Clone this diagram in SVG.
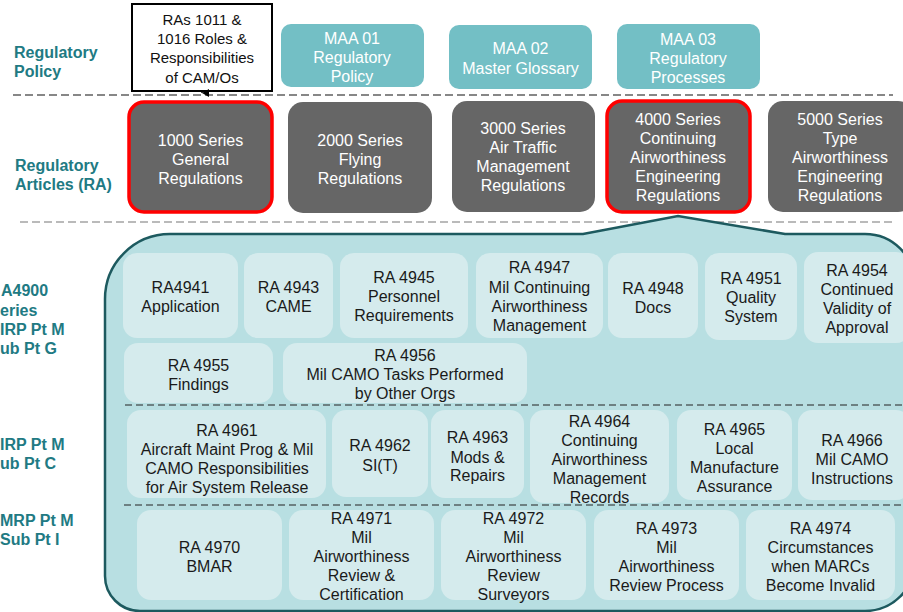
<svg xmlns="http://www.w3.org/2000/svg" width="903" height="612" viewBox="0 0 903 612">
<defs>
<style>
.lbl{font-family:"Liberation Sans",Arial,sans-serif;font-weight:bold;font-size:16px;fill:#217a83}
.w{font-family:"Liberation Sans",Arial,sans-serif;font-size:16px;fill:#ffffff;text-anchor:middle}
.k{font-family:"Liberation Sans",Arial,sans-serif;font-size:16px;fill:#1a1a1a;text-anchor:middle}
.k15{font-family:"Liberation Sans",Arial,sans-serif;font-size:15px;fill:#111;text-anchor:middle}
.maa{fill:#73bfc5}
.dark{fill:#666666}
.red{fill:#666666;stroke:#ff0000;stroke-width:3.5}
.inner{fill:#d5ebed}
.dash{fill:none;stroke:#222;stroke-width:1;stroke-dasharray:7 4}
</style>
<marker id="ah" markerWidth="8" markerHeight="8" refX="4" refY="7" orient="auto" markerUnits="userSpaceOnUse" viewBox="0 0 8 8">
<path d="M0,0 L8,0 L4,7 Z" fill="#000"/>
</marker>
</defs>
<rect width="903" height="612" fill="#ffffff"/>

<g id="row-labels">
<text class="lbl" x="14" y="58">Regulatory</text>
<text class="lbl" x="14" y="77">Policy</text>
<text class="lbl" x="15" y="171">Regulatory</text>
<text class="lbl" x="15" y="190">Articles (RA)</text>
<text class="lbl" x="1" y="296">A4900</text>
<text class="lbl" x="0" y="316">eries</text>
<text class="lbl" x="0" y="335">IRP Pt M</text>
<text class="lbl" x="0" y="354">ub Pt G</text>
<text class="lbl" x="0" y="450">IRP Pt M</text>
<text class="lbl" x="0" y="469">ub Pt C</text>
<text class="lbl" x="0" y="526">MRP Pt M</text>
<text class="lbl" x="0" y="545">Sub Pt I</text>
</g>

<g id="separators">
<line x1="13" y1="95" x2="893" y2="95" stroke="#111" stroke-width="1.2" stroke-dasharray="8 4"/>
<line x1="20" y1="222" x2="893" y2="222" stroke="#777" stroke-width="1.2" stroke-dasharray="8 4"/>
</g>

<g id="ra-1011-1016">
<rect x="132" y="4" width="140" height="87" fill="#fff" stroke="#000" stroke-width="2"/>
<text class="k15" x="202" y="24.5">RAs 1011 &amp;</text>
<text class="k15" x="202" y="43.5">1016 Roles &amp;</text>
<text class="k15" x="202" y="62.5">Responsibilities</text>
<text class="k15" x="202" y="82.5">of CAM/Os</text>
</g>

<g id="maa-01">
<rect class="maa" x="281" y="24" width="143" height="63" rx="10"/>
<text class="w" x="352" y="44">MAA 01</text>
<text class="w" x="352" y="63">Regulatory</text>
<text class="w" x="352" y="82">Policy</text>
</g>
<g id="maa-02">
<rect class="maa" x="449" y="25" width="143" height="64" rx="10"/>
<text class="w" x="520.5" y="54">MAA 02</text>
<text class="w" x="520.5" y="74">Master Glossary</text>
</g>
<g id="maa-03">
<rect class="maa" x="617" y="24" width="143" height="65" rx="10"/>
<text class="w" x="688" y="45">MAA 03</text>
<text class="w" x="688" y="64">Regulatory</text>
<text class="w" x="688" y="83">Processes</text>
</g>

<g id="ra-1000">
<rect class="red" x="129" y="102" width="143" height="110" rx="15"/>
<text class="w" x="200.5" y="145.5">1000 Series</text>
<text class="w" x="200.5" y="164.5">General</text>
<text class="w" x="200.5" y="183.5">Regulations</text>
</g>
<g id="ra-2000">
<rect class="dark" x="288" y="102" width="144" height="111" rx="15"/>
<text class="w" x="360" y="145.5">2000 Series</text>
<text class="w" x="360" y="164.5">Flying</text>
<text class="w" x="360" y="183.5">Regulations</text>
</g>
<g id="ra-3000">
<rect class="dark" x="452" y="101" width="143" height="111" rx="15"/>
<text class="w" x="523" y="134">3000 Series</text>
<text class="w" x="523" y="153">Air Traffic</text>
<text class="w" x="523" y="172">Management</text>
<text class="w" x="523" y="191">Regulations</text>
</g>
<g id="ra-4000">
<rect class="red" x="607" y="101" width="143" height="111" rx="15"/>
<text class="w" x="678" y="125">4000 Series</text>
<text class="w" x="678" y="144">Continuing</text>
<text class="w" x="678" y="163">Airworthiness</text>
<text class="w" x="678" y="182">Engineering</text>
<text class="w" x="678" y="201">Regulations</text>
</g>
<g id="ra-5000">
<rect class="dark" x="768" y="101" width="145" height="111" rx="15"/>
<text class="w" x="840" y="125">5000 Series</text>
<text class="w" x="840" y="144">Type</text>
<text class="w" x="840" y="163">Airworthiness</text>
<text class="w" x="840" y="182">Engineering</text>
<text class="w" x="840" y="201">Regulations</text>
</g>

<g id="ra4900-callout">
<path d="M105,299 A65,65 0 0 1 170,234 L583,234 L678,216 L785,234 L865,234 A50,50 0 0 1 915,284 L915,561 A50,50 0 0 1 865,611 L140,611 A35,35 0 0 1 105,576 Z" fill="#b8dfe2" stroke="#1d5a5f" stroke-width="2.5"/>
<line class="dash" x1="125" y1="405" x2="903" y2="405"/>
<line class="dash" x1="124" y1="505" x2="903" y2="505"/>
</g>

<g id="ra-4941">
<rect class="inner" x="123" y="253" width="115" height="85" rx="14"/>
<text class="k" x="180.5" y="293">RA4941</text>
<text class="k" x="180.5" y="312">Application</text>
</g>
<g id="ra-4943">
<rect class="inner" x="244" y="253" width="89" height="85" rx="14"/>
<text class="k" x="288.5" y="293">RA 4943</text>
<text class="k" x="288.5" y="312">CAME</text>
</g>
<g id="ra-4945">
<rect class="inner" x="340" y="253" width="128" height="85" rx="14"/>
<text class="k" x="404" y="283">RA 4945</text>
<text class="k" x="404" y="302">Personnel</text>
<text class="k" x="404" y="321">Requirements</text>
</g>
<g id="ra-4947">
<rect class="inner" x="476" y="253" width="127" height="85" rx="14"/>
<text class="k" x="539.5" y="273">RA 4947</text>
<text class="k" x="539.5" y="293">Mil Continuing</text>
<text class="k" x="539.5" y="312">Airworthiness</text>
<text class="k" x="539.5" y="331">Management</text>
</g>
<g id="ra-4948">
<rect class="inner" x="608" y="253" width="90" height="85" rx="14"/>
<text class="k" x="653" y="294">RA 4948</text>
<text class="k" x="653" y="313">Docs</text>
</g>
<g id="ra-4951">
<rect class="inner" x="705" y="253" width="92" height="87" rx="14"/>
<text class="k" x="751" y="284">RA 4951</text>
<text class="k" x="751" y="303">Quality</text>
<text class="k" x="751" y="322">System</text>
</g>
<g id="ra-4954">
<rect class="inner" x="804" y="252" width="106" height="91" rx="14"/>
<text class="k" x="857" y="276">RA 4954</text>
<text class="k" x="857" y="295">Continued</text>
<text class="k" x="857" y="314">Validity of</text>
<text class="k" x="857" y="333">Approval</text>
</g>
<g id="ra-4955">
<rect class="inner" x="124" y="343" width="149" height="60" rx="14"/>
<text class="k" x="198.5" y="371">RA 4955</text>
<text class="k" x="198.5" y="390">Findings</text>
</g>
<g id="ra-4956">
<rect class="inner" x="283" y="343" width="244" height="60" rx="14"/>
<text class="k" x="405" y="361">RA 4956</text>
<text class="k" x="405" y="380">Mil CAMO Tasks Performed</text>
<text class="k" x="405" y="399">by Other Orgs</text>
</g>

<g id="ra-4961">
<rect class="inner" x="127" y="410" width="199" height="88" rx="14"/>
<text class="k" x="227" y="436">RA 4961</text>
<text class="k" x="227" y="455">Aircraft Maint Prog &amp; Mil</text>
<text class="k" x="227" y="474">CAMO Responsibilities</text>
<text class="k" x="227" y="493">for Air System Release</text>
</g>
<g id="ra-4962">
<rect class="inner" x="332" y="410" width="96" height="87" rx="14"/>
<text class="k" x="380" y="451">RA 4962</text>
<text class="k" x="380" y="471">SI(T)</text>
</g>
<g id="ra-4963">
<rect class="inner" x="431" y="410" width="93" height="88" rx="14"/>
<text class="k" x="477.5" y="443">RA 4963</text>
<text class="k" x="477.5" y="463">Mods &amp;</text>
<text class="k" x="477.5" y="481">Repairs</text>
</g>
<g id="ra-4964">
<rect class="inner" x="530" y="410" width="139" height="93" rx="14"/>
<text class="k" x="599.5" y="427">RA 4964</text>
<text class="k" x="599.5" y="446">Continuing</text>
<text class="k" x="599.5" y="465">Airworthiness</text>
<text class="k" x="599.5" y="484">Management</text>
<text class="k" x="599.5" y="503">Records</text>
</g>
<g id="ra-4965">
<rect class="inner" x="677" y="410" width="115" height="90" rx="14"/>
<text class="k" x="734.5" y="435">RA 4965</text>
<text class="k" x="734.5" y="454">Local</text>
<text class="k" x="734.5" y="473">Manufacture</text>
<text class="k" x="734.5" y="492">Assurance</text>
</g>
<g id="ra-4966">
<rect class="inner" x="798" y="410" width="112" height="90" rx="14"/>
<text class="k" x="852" y="446">RA 4966</text>
<text class="k" x="852" y="465">Mil CAMO</text>
<text class="k" x="852" y="484">Instructions</text>
</g>

<g id="ra-4970">
<rect class="inner" x="137" y="510" width="145" height="90" rx="14"/>
<text class="k" x="209.5" y="553">RA 4970</text>
<text class="k" x="209.5" y="572">BMAR</text>
</g>
<g id="ra-4971">
<rect class="inner" x="289" y="510" width="145" height="90" rx="14"/>
<text class="k" x="361.5" y="524">RA 4971</text>
<text class="k" x="361.5" y="543">Mil</text>
<text class="k" x="361.5" y="562">Airworthiness</text>
<text class="k" x="361.5" y="581">Review &amp;</text>
<text class="k" x="361.5" y="600">Certification</text>
</g>
<g id="ra-4972">
<rect class="inner" x="441" y="510" width="145" height="90" rx="14"/>
<text class="k" x="513.5" y="524">RA 4972</text>
<text class="k" x="513.5" y="543">Mil</text>
<text class="k" x="513.5" y="562">Airworthiness</text>
<text class="k" x="513.5" y="581">Review</text>
<text class="k" x="513.5" y="600">Surveyors</text>
</g>
<g id="ra-4973">
<rect class="inner" x="594" y="510" width="145" height="90" rx="14"/>
<text class="k" x="666.5" y="534">RA 4973</text>
<text class="k" x="666.5" y="553">Mil</text>
<text class="k" x="666.5" y="572">Airworthiness</text>
<text class="k" x="666.5" y="591">Review Process</text>
</g>
<g id="ra-4974">
<rect class="inner" x="746" y="510" width="149" height="90" rx="14"/>
<text class="k" x="820.5" y="534">RA 4974</text>
<text class="k" x="820.5" y="553">Circumstances</text>
<text class="k" x="820.5" y="572">when MARCs</text>
<text class="k" x="820.5" y="591">Become Invalid</text>
</g>

<g id="connectors">
<line x1="202" y1="91" x2="202" y2="93" stroke="#000" stroke-width="1.5" marker-end="url(#ah)"/>
</g>
</svg>
